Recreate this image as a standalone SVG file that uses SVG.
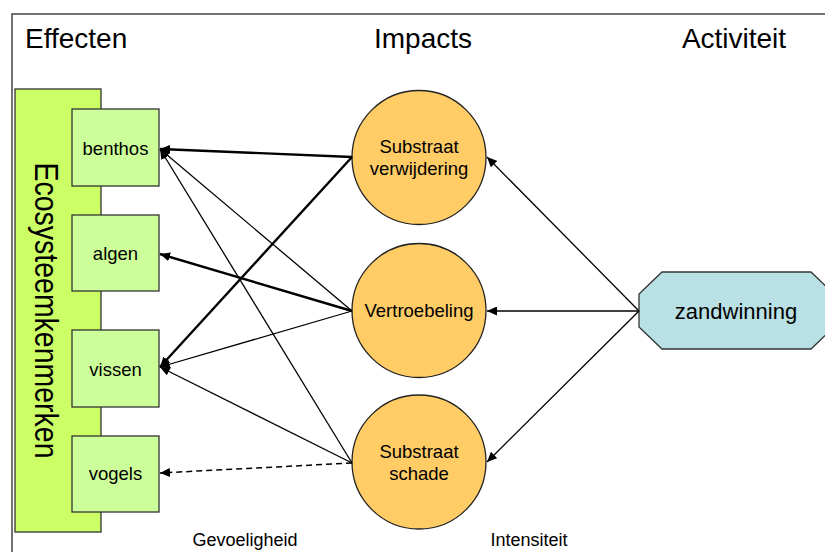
<svg xmlns="http://www.w3.org/2000/svg" width="825" height="552" viewBox="0 0 825 552">
  <style>
    text { font-family: "Liberation Sans", Arial, sans-serif; fill: #000; }
    .title { font-size: 28px; }
    .lbl { font-size: 18.5px; text-anchor: middle; }
    .cap { font-size: 18px; text-anchor: middle; }
    .box { fill: #ccff99; stroke: #333; stroke-width: 1.3; }
    .impact { fill: #ffcc66; stroke: #222; stroke-width: 1.3; }
    .edge { stroke: #000; fill: none; marker-end: url(#head); }
    .thin { stroke-width: 1.3; }
    .thick { stroke-width: 2.4; }
    .dash { stroke-width: 1.5; stroke-dasharray: 6 4; }
  </style>
  <defs>
    <marker id="head" markerUnits="userSpaceOnUse" markerWidth="11" markerHeight="9" refX="10" refY="4.5" orient="auto">
      <path d="M0,0 L10,4.5 L0,9 Z" fill="#000"/>
    </marker>
  </defs>

  <rect width="825" height="552" fill="#fff"/>

  <!-- outer frame (top and left borders) -->
  <path d="M12,552 V14 H825" fill="none" stroke="#444" stroke-width="1.5"/>

  <!-- column headings -->
  <text class="title" x="25" y="48">Effecten</text>
  <text class="title" x="423" y="48" text-anchor="middle">Impacts</text>
  <text class="title" x="734" y="48" text-anchor="middle">Activiteit</text>

  <!-- ecosystem characteristics panel -->
  <g id="ecosysteemkenmerken">
    <rect x="15" y="89" width="86" height="443" fill="#ccff66" stroke="#333" stroke-width="1.3"/>
    <text transform="translate(35,310.5) rotate(90)" font-size="33" text-anchor="middle" textLength="296" lengthAdjust="spacingAndGlyphs">Ecosysteemkenmerken</text>
  </g>

  <g id="benthos">
    <rect class="box" x="72" y="109" width="87" height="77"/>
    <text class="lbl" x="115.5" y="155">benthos</text>
  </g>
  <g id="algen">
    <rect class="box" x="72" y="215" width="87" height="76"/>
    <text class="lbl" x="115.5" y="260">algen</text>
  </g>
  <g id="vissen">
    <rect class="box" x="72" y="330" width="87" height="77"/>
    <text class="lbl" x="115.5" y="375.5">vissen</text>
  </g>
  <g id="vogels">
    <rect class="box" x="72" y="436" width="87" height="76"/>
    <text class="lbl" x="115.5" y="480">vogels</text>
  </g>

  <!-- impacts -->
  <g id="substraat-verwijdering">
    <circle class="impact" cx="419" cy="157.5" r="67"/>
    <text class="lbl" x="419" y="153">Substraat</text>
    <text class="lbl" x="419" y="175">verwijdering</text>
  </g>
  <g id="vertroebeling">
    <circle class="impact" cx="419" cy="310.5" r="67"/>
    <text class="lbl" x="419" y="317">Vertroebeling</text>
  </g>
  <g id="substraat-schade">
    <circle class="impact" cx="419" cy="462" r="67"/>
    <text class="lbl" x="419" y="458">Substraat</text>
    <text class="lbl" x="419" y="480">schade</text>
  </g>

  <!-- activity -->
  <g id="zandwinning">
    <polygon points="662,272 811,272 834,294 834,327 811,349 662,349 639,327 639,294" fill="#b9e0e4" stroke="#333" stroke-width="1.3"/>
    <text x="736" y="319" font-size="22" text-anchor="middle">zandwinning</text>
  </g>

  <!-- connectors -->
  <g id="connectors">
    <!-- activity to impacts -->
    <line class="edge thin" x1="639" y1="311" x2="487" y2="157"/>
    <line class="edge thin" x1="639" y1="311" x2="487" y2="311"/>
    <line class="edge thin" x1="639" y1="311" x2="487" y2="462"/>

    <!-- substraat verwijdering -->
    <line class="edge thick" x1="352" y1="157" x2="160" y2="149"/>
    <line class="edge thick" x1="352" y1="157" x2="160" y2="367"/>

    <!-- vertroebeling -->
    <line class="edge thin" x1="352" y1="311" x2="160" y2="149"/>
    <line class="edge thick" x1="352" y1="311" x2="160" y2="254"/>
    <line class="edge thin" x1="352" y1="311" x2="160" y2="367"/>

    <!-- substraat schade -->
    <line class="edge thin" x1="352" y1="463" x2="160" y2="149"/>
    <line class="edge thin" x1="352" y1="463" x2="160" y2="367"/>
    <line class="edge dash" x1="352" y1="463" x2="160" y2="473"/>
  </g>

  <!-- axis captions -->
  <text class="cap" x="245" y="546">Gevoeligheid</text>
  <text class="cap" x="529" y="546">Intensiteit</text>
</svg>
